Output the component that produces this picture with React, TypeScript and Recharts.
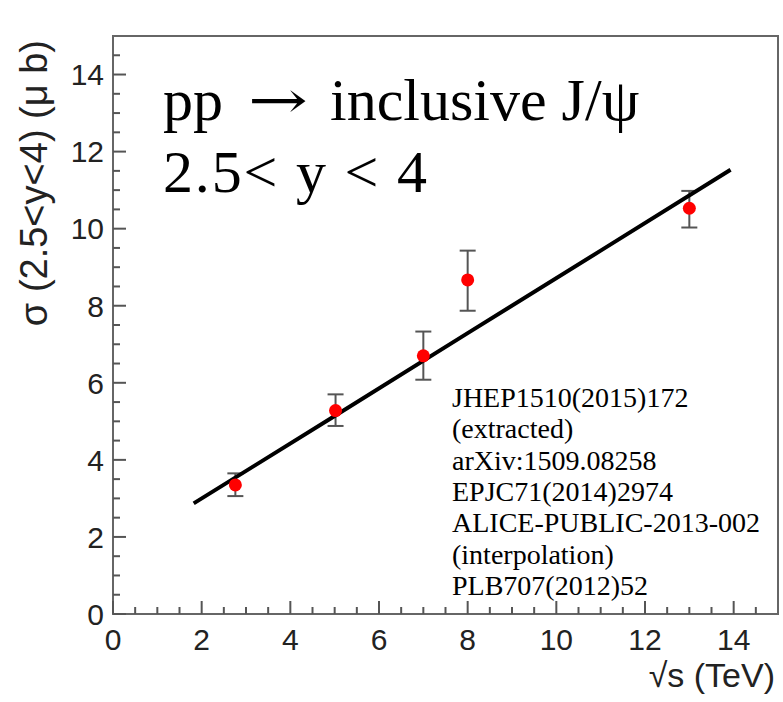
import React, { useLayoutEffect, useRef, useState } from "react"
import { ComposedChart, Scatter, XAxis, YAxis, ErrorBar, ReferenceArea } from "recharts"

// measured J/psi cross sections vs collision energy
const energies = [2.76, 5.02, 7, 8, 13]
const sigma = [3.35, 5.28, 6.7, 8.67, 10.53]
const errLow = [0.29, 0.4, 0.62, 0.8, 0.5]
const errHigh = [0.3, 0.42, 0.63, 0.76, 0.45]

// interpolation curve
const fitEnergies = [1.82, 5, 8, 11, 13.93]
const fitSigma = [2.87, 5.14, 7.29, 9.43, 11.53]

const references = [
  "JHEP1510(2015)172",
  "(extracted)",
  "arXiv:1509.08258",
  "EPJC71(2014)2974",
  "ALICE-PUBLIC-2013-002",
  "(interpolation)",
  "PLB707(2012)52",
]

const axisTicks = Array.from({ length: 30 }, (_, i) => i * 0.5)

const points = energies.map((e, i) => ({ x: e, y: sigma[i], err: [errLow[i], errHigh[i]] }))
const fit = fitEnergies.map((e, i) => ({ x: e, y: fitSigma[i] }))

const W = 783
const H = 702
const SANS = "'Liberation Sans', Arial, sans-serif"
const SERIF = "'Liberation Serif', 'Times New Roman', serif"
const TICK_COLOR = "#555"
const GAP = 8

const YTick = (props: any) => {
  const { x, y, payload } = props
  const v = payload.value
  const major = v % 2 === 0
  const ax = x + GAP
  return (
    <g>
      <line x1={ax} x2={ax + (major ? 13 : 7)} y1={y} y2={y} stroke={TICK_COLOR} strokeWidth={2} />
      {major && (
        <text x={x - 1} y={y} dy="0.36em" textAnchor="end" fontFamily={SANS} fontSize={30} fill="#222">
          {v}
        </text>
      )}
    </g>
  )
}

const XTick = (props: any) => {
  const { x, y, payload } = props
  const v = payload.value
  const major = v % 2 === 0
  const ay = y - GAP
  return (
    <g>
      <line x1={x} x2={x} y1={ay} y2={ay - (major ? 13 : 7)} stroke={TICK_COLOR} strokeWidth={2} />
      {major && (
        <text x={x} y={ay + 36} textAnchor="middle" fontFamily={SANS} fontSize={30} fill="#222">
          {v}
        </text>
      )}
    </g>
  )
}

const Dot = (p: any) => <circle cx={p.cx} cy={p.cy} r={6.5} fill="#ff0000" />

// long arrow: the glyph is stretched horizontally to a fixed width
function LongArrow({ x, y, width }: { x: number; y: number; width: number }) {
  const ref = useRef<SVGTextElement>(null)
  const [sx, setSx] = useState(1)
  useLayoutEffect(() => {
    if (ref.current) {
      const w = ref.current.getBBox().width
      if (w > 0) setSx(width / w)
    }
  }, [width])
  return (
    <g transform={`translate(${x} ${y}) scale(${sx} 1)`}>
      <text ref={ref} x={0} y={0} fontFamily="'DejaVu Serif', serif" fontSize={52}>
        →
      </text>
    </g>
  )
}

export default function App() {
  return (
    <div style={{ position: "absolute", left: 0, top: 0, width: W, height: H, background: "#fff" }}>
      <ComposedChart width={W} height={H} margin={{ top: 36, right: 5, bottom: 0, left: 0 }}>
        <XAxis
          type="number"
          dataKey="x"
          domain={[0, 15]}
          ticks={axisTicks}
          interval={0}
          tick={<XTick />}
          tickLine={false}
          tickSize={0}
          tickMargin={GAP}
          axisLine={false}
          height={88}
        />
        <YAxis
          type="number"
          dataKey="y"
          domain={[0, 15]}
          ticks={axisTicks}
          interval={0}
          tick={<YTick />}
          tickLine={false}
          tickSize={0}
          tickMargin={GAP}
          axisLine={false}
          width={113}
        />
        <ReferenceArea x1={0} x2={15} y1={0} y2={15} fill="none" stroke="#666" strokeWidth={2} />
        <Scatter
          data={fit}
          line={{ stroke: "#000", strokeWidth: 4 }}
          lineType="joint"
          shape={() => <g />}
          isAnimationActive={false}
        />
        <Scatter data={points} shape={<Dot />} isAnimationActive={false}>
          <ErrorBar dataKey="err" direction="y" width={8} stroke="#555" strokeWidth={2} />
        </Scatter>
      </ComposedChart>
      <svg width={W} height={H} style={{ position: "absolute", left: 0, top: 0, pointerEvents: "none" }}>
        <g fontFamily={SERIF} fontSize={60} fill="#000">
          <text x={163} y={120}>pp</text>
          <LongArrow x={248} y={118} width={60} />
          <text x={330} y={120}>inclusive J/ψ</text>
          <text x={163} y={192} textLength={264} lengthAdjust="spacing">
            2.5&lt; y &lt; 4
          </text>
        </g>
        {references.map((r, i) => (
          <text key={r} x={452} y={407 + i * 31.3} fontFamily={SERIF} fontSize={28} fill="#000">
            {r}
          </text>
        ))}
        <text
          x={47}
          y={40}
          transform="rotate(-90 47 40)"
          textAnchor="end"
          fontFamily={SANS}
          fontSize={38}
          fill="#222"
        >
          σ (2.5&lt;y&lt;4) (μ b)
        </text>
        <text x={775} y={687} textAnchor="end" fontFamily={SANS} fontSize={34} fill="#222">
          √s (TeV)
        </text>
      </svg>
    </div>
  )
}
